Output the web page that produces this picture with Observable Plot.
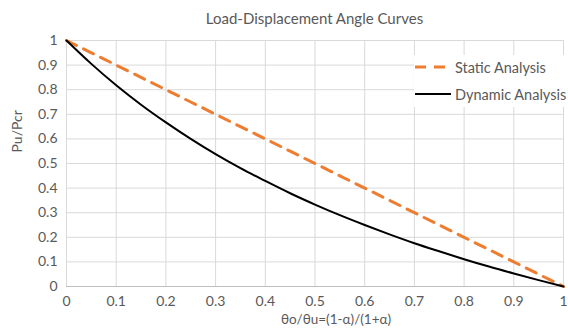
<!DOCTYPE html>
<html>
<head>
<meta charset="utf-8">
<script src="https://cdn.jsdelivr.net/npm/d3@7"></script>
<script src="https://cdn.jsdelivr.net/npm/@observablehq/plot@0.6"></script>
<style>
  html, body { margin: 0; padding: 0; background: #fff; }
  #wrap { position: relative; width: 568px; height: 331px; font-family: Lato, "Open Sans", sans-serif; color: #595959; }
  #title { position: absolute; top: 9px; left: 0; width: 568px; text-align: center; font-size: 15px; padding-left: 61px; box-sizing: border-box; white-space: nowrap; }
  #legend { position: absolute; left: 414px; top: 55px; width: 154px; height: 52px; background: #fff; font-size: 14.5px; color: #595959; }
  .item { position: absolute; left: 0; height: 20px; display: flex; align-items: center; white-space: nowrap; }
  .item svg { margin-right: 4px; }
</style>
</head>
<body>
<div id="wrap">
  <div id="chart"></div>
  <div id="title">Load-Displacement Angle Curves</div>
  <div id="legend">
    <div class="item" style="top:2px"><svg width="37" height="6"><line x1="1" y1="3" x2="37" y2="3" stroke="#ED7D31" stroke-width="3" stroke-dasharray="11,8"/></svg>Static Analysis</div>
    <div class="item" style="top:29px"><svg width="37" height="6"><line x1="1" y1="3" x2="37" y2="3" stroke="#000" stroke-width="2"/></svg>Dynamic Analysis</div>
  </div>
</div>
<script>
const ratio = [0, 0.05, 0.1, 0.15, 0.2, 0.25, 0.3, 0.35, 0.4, 0.45, 0.5, 0.55, 0.6, 0.65, 0.7, 0.75, 0.8, 0.85, 0.9, 0.95, 1];
const staticLoad = [1, 0.95, 0.9, 0.85, 0.8, 0.75, 0.7, 0.65, 0.6, 0.55, 0.5, 0.45, 0.4, 0.35, 0.3, 0.25, 0.2, 0.15, 0.1, 0.05, 0];
const dynamicLoad = [1, 0.905, 0.818, 0.739, 0.667, 0.6, 0.538, 0.481, 0.429, 0.379, 0.333, 0.29, 0.25, 0.212, 0.176, 0.143, 0.111, 0.081, 0.053, 0.026, 0];
const xTicks = [0, 0.1, 0.2, 0.3, 0.4, 0.5, 0.6, 0.7, 0.8, 0.9, 1];
const yTicks = [0, 0.1, 0.2, 0.3, 0.4, 0.5, 0.6, 0.7, 0.8, 0.9, 1];

const staticData = ratio.map((x, i) => ({x, y: staticLoad[i]}));
const dynamicData = ratio.map((x, i) => ({x, y: dynamicLoad[i]}));

const chart = Plot.plot({
  width: 568,
  height: 331,
  marginLeft: 66,
  marginRight: 5,
  marginTop: 40,
  marginBottom: 45,
  style: { fontFamily: "Lato, 'Open Sans', sans-serif", fontSize: "14px", color: "#595959", background: "#fff" },
  x: { domain: [0, 1], ticks: xTicks, tickFormat: d => String(d), label: null },
  y: { domain: [0, 1], ticks: yTicks, tickFormat: d => String(d), label: null },
  marks: [
    Plot.gridX(xTicks, { stroke: "#d9d9d9", strokeOpacity: 1 }),
    Plot.gridY(yTicks, { stroke: "#d9d9d9", strokeOpacity: 1 }),
    Plot.axisX(xTicks, { tickSize: 0, tickPadding: 10, tickFormat: d => String(d), label: null, fill: "#595959", fontSize: 14 }),
    Plot.axisY(yTicks, { tickSize: 0, tickPadding: 9, tickFormat: d => String(d), label: null, fill: "#595959", fontSize: 14 }),
    Plot.ruleY([0], { stroke: "#bfbfbf" }),
    Plot.text(["θo/θu=(1-α)/(1+α)"], { frameAnchor: "bottom", dx: 21, dy: 37.5, fill: "#595959", fontSize: 13.5 }),
    Plot.text(["Pu/Pcr"], { frameAnchor: "left", dx: -49, dy: -11, rotate: -90, fill: "#595959", fontSize: 14 }),
    Plot.line(staticData, { x: "x", y: "y", stroke: "#ED7D31", strokeWidth: 3, strokeDasharray: "11,8" }),
    Plot.line(dynamicData, { x: "x", y: "y", stroke: "#000", strokeWidth: 2, curve: "monotone-x" })
  ]
});
document.getElementById("chart").appendChild(chart);
</script>
</body>
</html>
